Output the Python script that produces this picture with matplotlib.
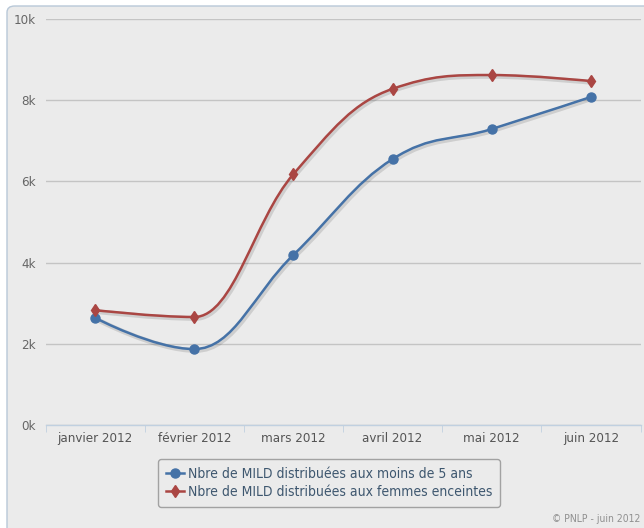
import numpy as np
import matplotlib
matplotlib.use("Agg")
import matplotlib.pyplot as plt
from matplotlib.patches import FancyBboxPatch
from matplotlib.path import Path
from matplotlib.patches import PathPatch
import matplotlib.patheffects as pe
from matplotlib.lines import Line2D

months = ["janvier 2012", "février 2012", "mars 2012", "avril 2012", "mai 2012", "juin 2012"]
moins5 = [2640, 1870, 4190, 6550, 7290, 8080]
enceintes = [2830, 2660, 6180, 8280, 8620, 8470]
names = ["Nbre de MILD distribuées aux moins de 5 ans",
         "Nbre de MILD distribuées aux femmes enceintes"]
colors = ["#4572A7", "#AA4643"]
markers = ["o", "d"]

plt.rcParams['font.family'] = ['DejaVu Sans']
plt.rcParams['font.stretch'] = 'condensed'


def spline_path(xs, ys, smoothing=1.5):
    # same control point rule as Highcharts "spline"
    n = len(xs)
    left = [(xs[i], ys[i]) for i in range(n)]
    right = [(xs[i], ys[i]) for i in range(n)]
    denom = smoothing + 1
    for i in range(1, n - 1):
        px, py = xs[i], ys[i]
        lx, ly = xs[i - 1], ys[i - 1]
        nx, ny = xs[i + 1], ys[i + 1]
        lcx = (smoothing * px + lx) / denom
        lcy = (smoothing * py + ly) / denom
        rcx = (smoothing * px + nx) / denom
        rcy = (smoothing * py + ny) / denom
        corr = (rcy - lcy) * (rcx - px) / (rcx - lcx) + py - rcy
        lcy += corr
        rcy += corr
        if lcy > ly and lcy > py:
            lcy = max(ly, py)
            rcy = 2 * py - lcy
        elif lcy < ly and lcy < py:
            lcy = min(ly, py)
            rcy = 2 * py - lcy
        if rcy > ny and rcy > py:
            rcy = max(ny, py)
            lcy = 2 * py - rcy
        elif rcy < ny and rcy < py:
            rcy = min(ny, py)
            lcy = 2 * py - rcy
        left[i] = (lcx, lcy)
        right[i] = (rcx, rcy)
    verts = [(xs[0], ys[0])]
    codes = [Path.MOVETO]
    for i in range(1, n):
        verts += [right[i - 1], left[i], (xs[i], ys[i])]
        codes += [Path.CURVE4] * 3
    return Path(verts, codes)


fig = plt.figure(figsize=(6.44, 5.28), dpi=100)
fig.patch.set_facecolor("white")
bg = FancyBboxPatch((7 / 644, -0.05), 1.1, 1.05 - 6 / 528,
                    boxstyle="round,pad=0,rounding_size=0.012",
                    transform=fig.transFigure, facecolor="#ebebeb",
                    edgecolor="#b8c8d8", linewidth=1.0, zorder=-5)
fig.patches.append(bg)

ax = fig.add_axes([45.5 / 644, 103 / 528, 595 / 644, 406 / 528])
ax.set_facecolor("none")
ax.set_xlim(-0.5, 5.5)
ax.set_ylim(0, 10000)
for s in ["top", "right", "left"]:
    ax.spines[s].set_visible(False)
ax.spines["bottom"].set_color("#c0d0e0")
ax.spines["bottom"].set_linewidth(1)

ax.set_yticks([0, 2000, 4000, 6000, 8000, 10000])
ax.set_yticklabels(["0k", "2k", "4k", "6k", "8k", "10k"])
ax.yaxis.grid(True, color="#c4c4c4", linewidth=1)
ax.tick_params(axis="y", length=0, pad=7, labelsize=9.5, labelcolor="#666666")
ax.set_xticks(range(len(months)))
ax.set_xticklabels(months)
ax.set_xticks(np.arange(-0.5, 6, 1), minor=True)
ax.tick_params(axis="x", which="major", length=0, pad=5, labelsize=9.5, labelcolor="#555555")
ax.tick_params(axis="x", which="minor", length=5, color="#c0d0e0", direction="out")
ax.set_axisbelow(True)

x = np.arange(len(months))
for vals, c, m in zip([moins5, enceintes], colors, markers):
    path = spline_path(list(x), list(vals))
    patch = PathPatch(path, facecolor="none", edgecolor=c, linewidth=1.8, zorder=3,
                      capstyle="round",
                      path_effects=[pe.SimpleLineShadow(offset=(1, -1), shadow_color="black", alpha=0.12, linewidth=3.5),
                                    pe.Normal()])
    ax.add_patch(patch)
    ax.plot(x, vals, linestyle="none", marker=m, color=c,
            markersize=6.5 if m == "o" else 6, zorder=4, clip_on=False)

handles = [Line2D([0], [0], color=c, marker=m, linewidth=1.8,
                  markersize=6.5 if m == "o" else 6)
           for c, m in zip(colors, markers)]
leg = fig.legend(handles, names, loc="center",
                 bbox_to_anchor=(329 / 644, 1 - 483 / 528),
                 frameon=True, fontsize=10, handlelength=1.3,
                 handletextpad=0.3, labelspacing=0.3, borderpad=0.55,
                 fancybox=True)
leg.get_frame().set_edgecolor("#909090")
leg.get_frame().set_facecolor("#ebebeb")
leg.get_frame().set_linewidth(1)
for t in leg.get_texts():
    t.set_color("#3e576f")

fig.text(640 / 644, 1 - 519 / 528, "© PNLP - juin 2012", ha="right", va="center",
         fontsize=7.5, color="#909090")

fig.savefig("out.png", dpi=100)
